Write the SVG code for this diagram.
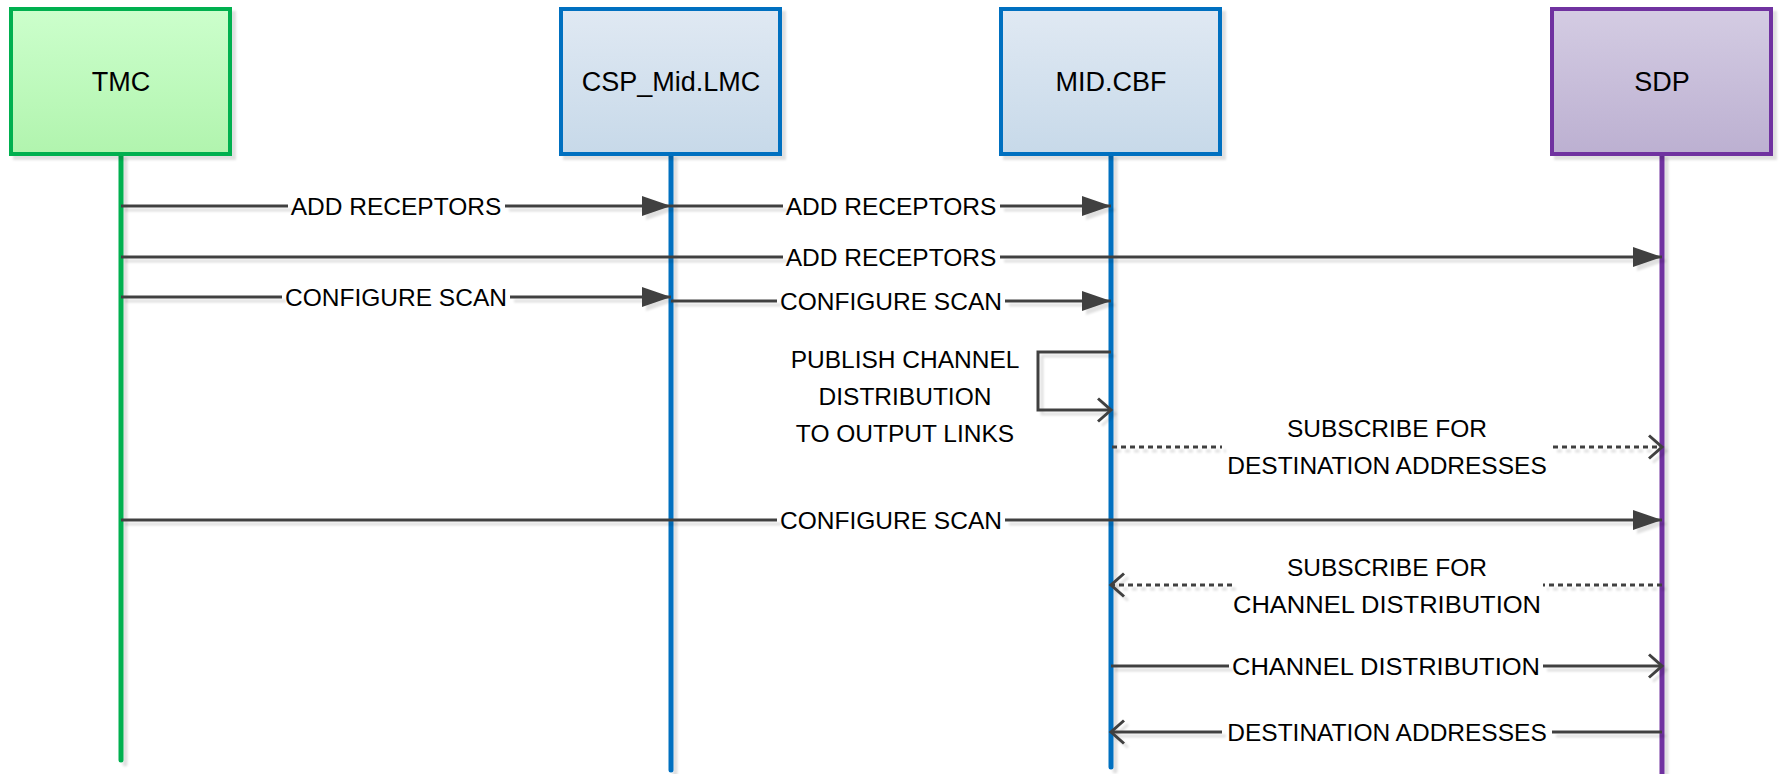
<svg xmlns="http://www.w3.org/2000/svg" width="1779" height="774" viewBox="0 0 1779 774">
<style>
  .lbl { font-family: "Liberation Sans", Arial, sans-serif; font-size: 24.5px; fill: #000; text-anchor: middle; }
  .title { font-family: "Liberation Sans", Arial, sans-serif; font-size: 27px; fill: #000; text-anchor: middle; }
  .msg { stroke: #404040; stroke-width: 3; fill: none; }
  .dash { stroke: #404040; stroke-width: 3; fill: none; stroke-dasharray: 5 4; }
  .life { stroke-width: 5; stroke-linecap: round; fill: none; }
  .box { stroke-width: 4; }
</style>
<defs>
  <filter id="sh" filterUnits="userSpaceOnUse" x="0" y="0" width="1779" height="800">
    <feDropShadow dx="4" dy="4" stdDeviation="1" flood-color="#000" flood-opacity="0.12"/>
  </filter>
  <linearGradient id="gGreen" x1="0" y1="0" x2="0" y2="1">
    <stop offset="0" stop-color="#CCFFCC"/>
    <stop offset="1" stop-color="#B1F4AE"/>
  </linearGradient>
  <linearGradient id="gBlue" x1="0" y1="0" x2="0" y2="1">
    <stop offset="0" stop-color="#E0E9F3"/>
    <stop offset="1" stop-color="#C7D9E9"/>
  </linearGradient>
  <linearGradient id="gPurple" x1="0" y1="0" x2="0" y2="1">
    <stop offset="0" stop-color="#D4CCE3"/>
    <stop offset="1" stop-color="#BCB0D1"/>
  </linearGradient>
  <marker id="aFill" markerUnits="userSpaceOnUse" markerWidth="30" markerHeight="22" refX="29" refY="10" orient="auto" overflow="visible">
    <path d="M0,0 L29,10 L0,20 Z" fill="#404040"/>
  </marker>
  <marker id="aOpen" markerUnits="userSpaceOnUse" markerWidth="16" markerHeight="26" refX="13" refY="11.5" orient="auto" overflow="visible">
    <path d="M0,0 L13,11.5 L0,23" fill="none" stroke="#404040" stroke-width="3"/>
  </marker>
</defs>

<g id="node-tmc">
  <line class="life" x1="121" y1="156" x2="121" y2="760" stroke="#00B050" filter="url(#sh)"/>
  <rect class="box" x="11" y="9" width="219" height="145" fill="url(#gGreen)" stroke="#00B050" filter="url(#sh)"/>
  <text class="title" x="121" y="91">TMC</text>
</g>
<g id="node-csp">
  <line class="life" x1="671" y1="156" x2="671" y2="770" stroke="#0070C0" filter="url(#sh)"/>
  <rect class="box" x="561" y="9" width="219" height="145" fill="url(#gBlue)" stroke="#0070C0" filter="url(#sh)"/>
  <text class="title" x="671" y="91">CSP_Mid.LMC</text>
</g>
<g id="node-cbf">
  <line class="life" x1="1111" y1="156" x2="1111" y2="767" stroke="#0070C0" filter="url(#sh)"/>
  <rect class="box" x="1001" y="9" width="219" height="145" fill="url(#gBlue)" stroke="#0070C0" filter="url(#sh)"/>
  <text class="title" x="1111" y="91">MID.CBF</text>
</g>
<g id="node-sdp">
  <line class="life" x1="1662" y1="156" x2="1662" y2="790" stroke="#7030A0" filter="url(#sh)"/>
  <rect class="box" x="1552" y="9" width="219" height="145" fill="url(#gPurple)" stroke="#7030A0" filter="url(#sh)"/>
  <text class="title" x="1662" y="91">SDP</text>
</g>

<g id="connectors">
  <g filter="url(#sh)">
    <line class="msg" x1="121" y1="206" x2="288" y2="206"/>
    <line class="msg" x1="505" y1="206" x2="671" y2="206" marker-end="url(#aFill)"/>
    <line class="msg" x1="671" y1="206" x2="783" y2="206"/>
    <line class="msg" x1="1000" y1="206" x2="1111" y2="206" marker-end="url(#aFill)"/>
    <line class="msg" x1="121" y1="257" x2="783" y2="257"/>
    <line class="msg" x1="1000" y1="257" x2="1662" y2="257" marker-end="url(#aFill)"/>
    <line class="msg" x1="121" y1="297" x2="282" y2="297"/>
    <line class="msg" x1="510" y1="297" x2="671" y2="297" marker-end="url(#aFill)"/>
    <line class="msg" x1="671" y1="301" x2="777" y2="301"/>
    <line class="msg" x1="1005" y1="301" x2="1111" y2="301" marker-end="url(#aFill)"/>
    <path class="msg" d="M1111,352 H1038 V410 H1111" marker-end="url(#aOpen)"/>
    <line class="dash" x1="1112" y1="447" x2="1222" y2="447"/>
    <line class="dash" x1="1553" y1="447" x2="1662" y2="447" marker-end="url(#aOpen)"/>
    <line class="msg" x1="121" y1="520" x2="777" y2="520"/>
    <line class="msg" x1="1005" y1="520" x2="1662" y2="520" marker-end="url(#aFill)"/>
    <line class="dash" x1="1662" y1="585" x2="1543" y2="585"/>
    <line class="dash" x1="1232" y1="585" x2="1111" y2="585" marker-end="url(#aOpen)"/>
    <line class="msg" x1="1111" y1="666" x2="1229" y2="666"/>
    <line class="msg" x1="1543" y1="666" x2="1662" y2="666" marker-end="url(#aOpen)"/>
    <line class="msg" x1="1662" y1="732" x2="1552" y2="732"/>
    <line class="msg" x1="1222" y1="732" x2="1111" y2="732" marker-end="url(#aOpen)"/>
  </g>

  <text class="lbl" x="396" y="215">ADD RECEPTORS</text>
  <text class="lbl" x="891" y="215">ADD RECEPTORS</text>
  <text class="lbl" x="891" y="266">ADD RECEPTORS</text>
  <text class="lbl" x="396" y="306">CONFIGURE SCAN</text>
  <text class="lbl" x="891" y="310">CONFIGURE SCAN</text>
  <text class="lbl" x="905" y="368">PUBLISH CHANNEL</text>
  <text class="lbl" x="905" y="405">DISTRIBUTION</text>
  <text class="lbl" x="905" y="442">TO OUTPUT LINKS</text>
  <text class="lbl" x="1387" y="437">SUBSCRIBE FOR</text>
  <text class="lbl" x="1387" y="474">DESTINATION ADDRESSES</text>
  <text class="lbl" x="891" y="529">CONFIGURE SCAN</text>
  <text class="lbl" x="1387" y="576">SUBSCRIBE FOR</text>
  <text class="lbl" x="1387" y="613" textLength="308" lengthAdjust="spacingAndGlyphs">CHANNEL DISTRIBUTION</text>
  <text class="lbl" x="1386" y="675" textLength="308" lengthAdjust="spacingAndGlyphs">CHANNEL DISTRIBUTION</text>
  <text class="lbl" x="1387" y="741">DESTINATION ADDRESSES</text>
</g>
</svg>
